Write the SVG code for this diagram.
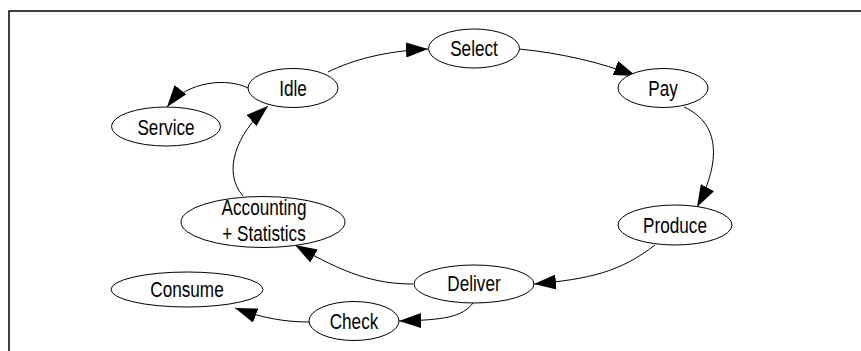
<svg xmlns="http://www.w3.org/2000/svg" width="861" height="351" viewBox="0 0 861 351">
  <style>
    .frame { stroke: #000; stroke-width: 1.5; fill: none; }
    .node ellipse { fill: #fff; stroke: #000; stroke-width: 1; }
    .node text { font-family: "Liberation Sans", Arial, Helvetica, sans-serif; font-size: 22px; fill: #000; text-anchor: middle; }
    .edge { fill: none; stroke: #000; stroke-width: 1; marker-end: url(#arrow); }
  </style>
  <defs>
    <marker id="arrow" viewBox="0 0 22 15" refX="22" refY="7.5" markerWidth="22" markerHeight="15" markerUnits="userSpaceOnUse" orient="auto">
      <path d="M0,0 L22,7.5 L0,15 Z" fill="#000"/>
    </marker>
  </defs>
  <rect width="861" height="351" fill="#fff"/>

  <!-- page frame (top and left rules) -->
  <path class="frame" d="M9,351 L9,11 L861,11"/>

  <!-- connectors -->
  <g id="edges">
    <path class="edge" d="M328,72 C352,60 385,51 428,49"/>
    <path class="edge" d="M519,49 C560,53 600,62 636,76"/>
    <path class="edge" d="M684,107 C724,125 718,168 697,207"/>
    <path class="edge" d="M655,245 C620,272 590,279 534,284"/>
    <path class="edge" d="M413,284 C375,284 345,274 295,245"/>
    <path class="edge" d="M473,303 C462,317 445,320 399,321"/>
    <path class="edge" d="M309,322 C285,322 262,318 235,308"/>
    <path class="edge" d="M243,196 C222,172 236,134 268,106"/>
    <path class="edge" d="M248,88 C228,78 188,80 167,107"/>
  </g>

  <!-- states -->
  <g id="idle" class="node">
    <ellipse cx="293" cy="88" rx="45" ry="19.5"/>
    <text transform="translate(293,96) scale(0.78,1)">Idle</text>
  </g>
  <g id="select" class="node">
    <ellipse cx="474" cy="48.5" rx="45.5" ry="19.5"/>
    <text transform="translate(474,56) scale(0.78,1)">Select</text>
  </g>
  <g id="pay" class="node">
    <ellipse cx="663" cy="88" rx="45" ry="19.5"/>
    <text transform="translate(663,95.5) scale(0.78,1)">Pay</text>
  </g>
  <g id="produce" class="node">
    <ellipse cx="675" cy="225" rx="57" ry="20"/>
    <text transform="translate(675,232.5) scale(0.78,1)">Produce</text>
  </g>
  <g id="deliver" class="node">
    <ellipse cx="474" cy="284" rx="60" ry="19"/>
    <text transform="translate(474,291) scale(0.78,1)">Deliver</text>
  </g>
  <g id="accounting" class="node">
    <ellipse cx="263" cy="222" rx="82" ry="25.5"/>
    <text transform="translate(264,215) scale(0.78,1)">Accounting</text>
    <text transform="translate(264,241) scale(0.78,1)">+ Statistics</text>
  </g>
  <g id="service" class="node">
    <ellipse cx="166" cy="126.5" rx="54.5" ry="19.5"/>
    <text transform="translate(166,134.5) scale(0.78,1)">Service</text>
  </g>
  <g id="consume" class="node">
    <ellipse cx="187" cy="289.5" rx="76" ry="17.5"/>
    <text transform="translate(187,297) scale(0.78,1)">Consume</text>
  </g>
  <g id="check" class="node">
    <ellipse cx="354" cy="321" rx="45" ry="19.5"/>
    <text transform="translate(354,328.5) scale(0.78,1)">Check</text>
  </g>
</svg>
